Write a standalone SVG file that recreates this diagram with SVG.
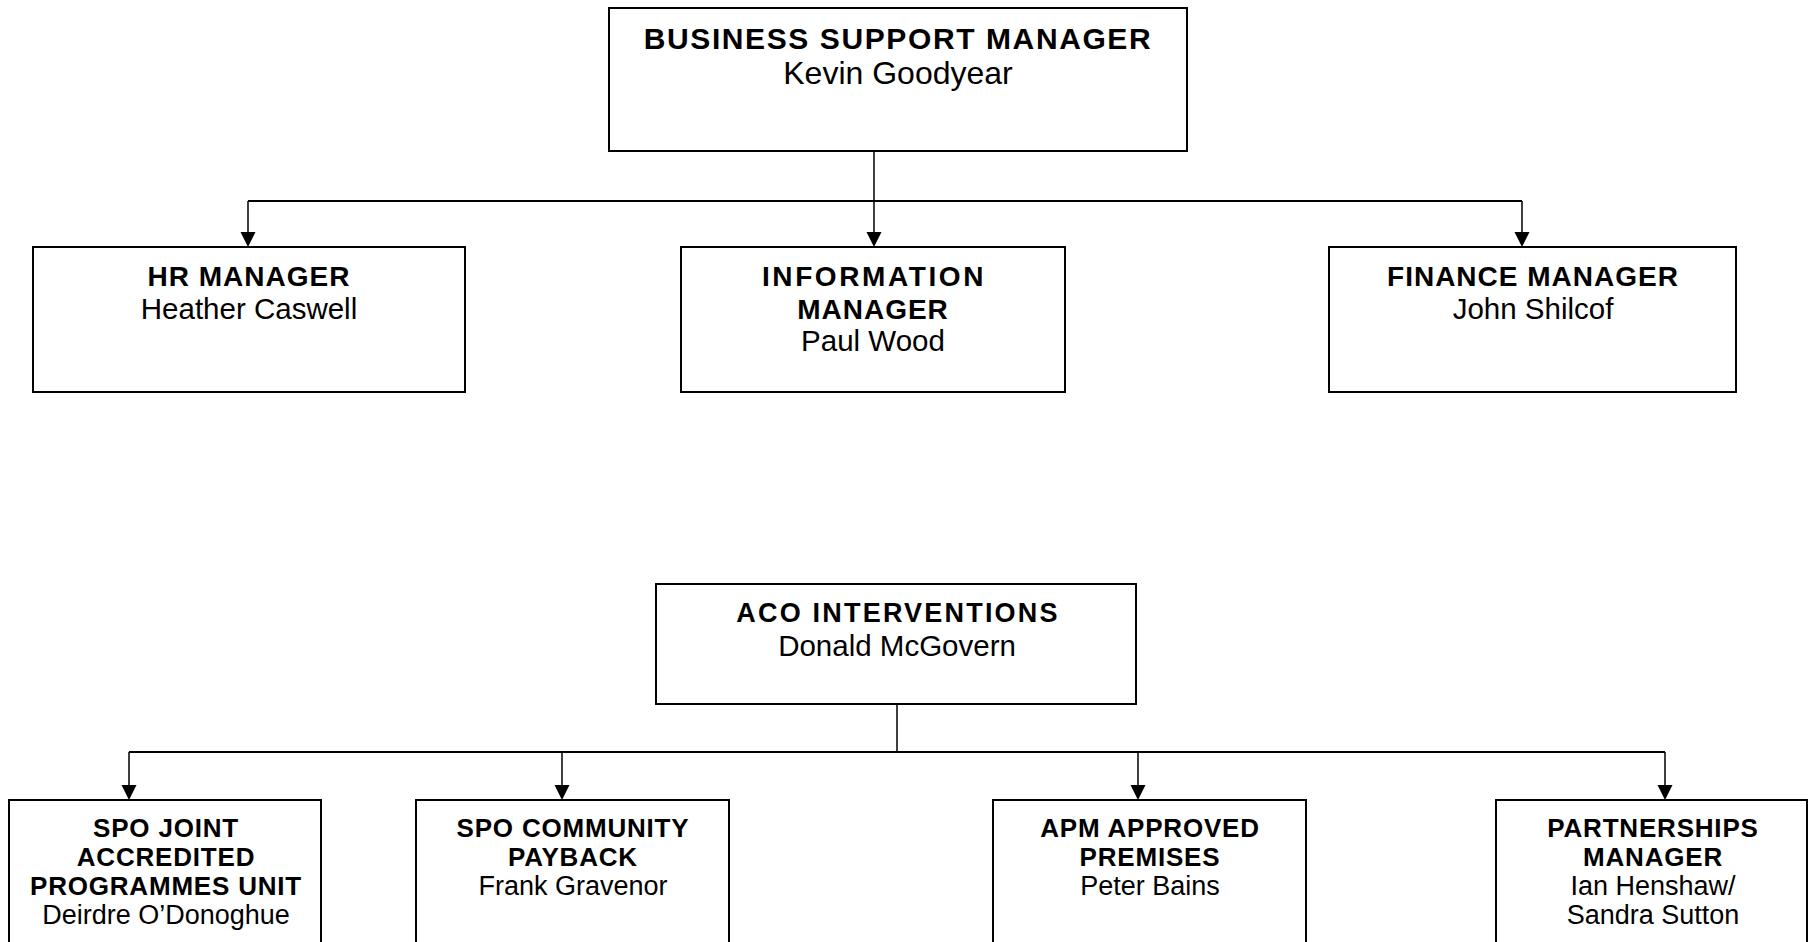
<svg xmlns="http://www.w3.org/2000/svg" width="1809" height="942" viewBox="0 0 1809 942">
<style>
rect.box{fill:#fff;stroke:#000;stroke-width:2}
.t{font-family:"Liberation Sans",Arial,sans-serif;font-weight:bold;text-anchor:middle;fill:#000}
.n{font-family:"Liberation Sans",Arial,sans-serif;text-anchor:middle;fill:#000}
.h{fill:none;stroke:#000;stroke-width:2}
.v{fill:none;stroke:#000;stroke-width:1.5}
.t1{font-size:30px;letter-spacing:1.6px}
.n1{font-size:32px}
.t2{font-size:28px;letter-spacing:1px}
.n2{font-size:29.5px}
.t3{font-size:26px;letter-spacing:0.8px}
.n3{font-size:27px}
</style>
<rect width="1809" height="942" fill="#fff"/>
<g id="connectors">
<path class="v" d="M874,151 V201"/>
<path class="h" d="M248,201 H1522"/>
<path class="v" d="M248,201 V234"/><path d="M240.5,232 L255.5,232 L248,247 Z"/>
<path class="v" d="M874,201 V234"/><path d="M866.5,232 L881.5,232 L874,247 Z"/>
<path class="v" d="M1522,201 V234"/><path d="M1514.5,232 L1529.5,232 L1522,247 Z"/>
<path class="v" d="M897,704 V752"/>
<path class="h" d="M129,752 H1665"/>
<path class="v" d="M129,752 V787"/><path d="M121.5,785 L136.5,785 L129,800 Z"/>
<path class="v" d="M562,752 V787"/><path d="M554.5,785 L569.5,785 L562,800 Z"/>
<path class="v" d="M1138,752 V787"/><path d="M1130.5,785 L1145.5,785 L1138,800 Z"/>
<path class="v" d="M1665,752 V787"/><path d="M1657.5,785 L1672.5,785 L1665,800 Z"/>
</g>
<g id="business-support">
<rect class="box" x="609" y="8" width="578" height="143"/>
<text class="t t1" x="898" y="49">BUSINESS SUPPORT MANAGER</text>
<text class="n n1" x="898" y="84">Kevin Goodyear</text>
</g>
<g id="hr">
<rect class="box" x="33" y="247" width="432" height="145"/>
<text class="t t2" x="249" y="286">HR MANAGER</text>
<text class="n n2" x="249" y="319">Heather Caswell</text>
</g>
<g id="information">
<rect class="box" x="681" y="247" width="384" height="145"/>
<text class="t t2" x="874" y="286" style="letter-spacing:2.6px">INFORMATION</text>
<text class="t t2" x="873" y="319">MANAGER</text>
<text class="n n2" x="873" y="351">Paul Wood</text>
</g>
<g id="finance">
<rect class="box" x="1329" y="247" width="407" height="145"/>
<text class="t t2" x="1533" y="286">FINANCE MANAGER</text>
<text class="n n2" x="1533" y="319">John Shilcof</text>
</g>
<g id="aco">
<rect class="box" x="656" y="584" width="480" height="120"/>
<text class="t t2" x="898" y="622" style="font-size:27px;letter-spacing:2.2px">ACO INTERVENTIONS</text>
<text class="n n2" x="897" y="656">Donald McGovern</text>
</g>
<g id="spo-joint">
<rect class="box" x="9" y="800" width="312" height="170"/>
<text class="t t3" x="166" y="837">SPO JOINT</text>
<text class="t t3" x="166" y="866">ACCREDITED</text>
<text class="t t3" x="166" y="895">PROGRAMMES UNIT</text>
<text class="n n3" x="166" y="924">Deirdre O’Donoghue</text>
</g>
<g id="spo-community">
<rect class="box" x="416" y="800" width="313" height="170"/>
<text class="t t3" x="573" y="837">SPO COMMUNITY</text>
<text class="t t3" x="573" y="866">PAYBACK</text>
<text class="n n3" x="573" y="895">Frank Gravenor</text>
</g>
<g id="apm">
<rect class="box" x="993" y="800" width="313" height="170"/>
<text class="t t3" x="1150" y="837">APM APPROVED</text>
<text class="t t3" x="1150" y="866">PREMISES</text>
<text class="n n3" x="1150" y="895">Peter Bains</text>
</g>
<g id="partnerships">
<rect class="box" x="1496" y="800" width="311" height="170"/>
<text class="t t3" x="1653" y="837">PARTNERSHIPS</text>
<text class="t t3" x="1653" y="866">MANAGER</text>
<text class="n n3" x="1653" y="895">Ian Henshaw/</text>
<text class="n n3" x="1653" y="924">Sandra Sutton</text>
</g>
</svg>
